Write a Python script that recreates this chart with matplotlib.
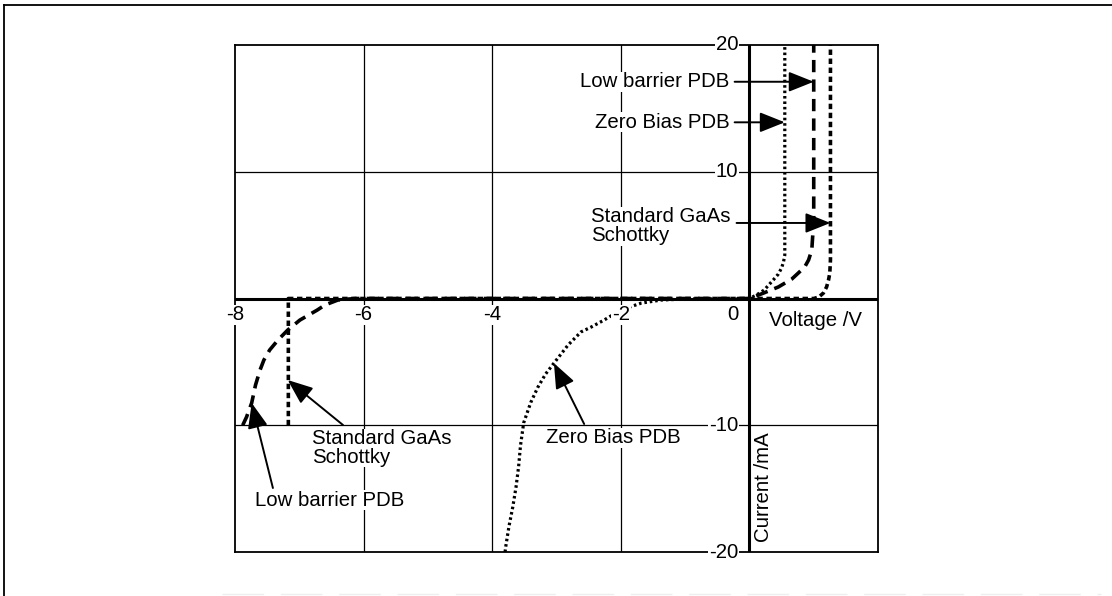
import matplotlib
matplotlib.use("Agg")
import matplotlib.pyplot as plt
from matplotlib.lines import Line2D

plt.rcParams['font.family'] = ['Liberation Sans', 'DejaVu Sans']
plt.rcParams['font.size'] = 14.7

# I-V characteristics (voltage in V, current in mA)
zero_bias_v = [-3.80, -3.79, -3.74, -3.68, -3.63, -3.59, -3.56, -3.51, -3.40,
               -3.29, -3.17, -3.04, -2.82, -2.62, -2.46, -2.26, -2.00, -1.68,
               -1.37, -1.00, 0.00, 0.11, 0.23, 0.37, 0.45, 0.50, 0.53, 0.55, 0.55]
zero_bias_i = [-20.0, -19.6, -18.0, -16.45, -14.9, -13.3, -11.6, -9.8, -8.2,
               -7.0, -5.96, -5.1, -3.67, -2.64, -2.25, -1.7, -0.91, -0.36,
               -0.12, -0.04, 0.0, 0.28, 0.67, 1.46, 1.93, 2.41, 2.88, 3.43, 20.0]

low_barrier_v = [-7.88, -7.82, -7.74, -7.68, -7.61, -7.55, -7.46, -7.33, -7.18,
                 -6.99, -6.72, -6.60, -6.40, -6.13, 0.00, 0.22, 0.45, 0.66,
                 0.76, 0.86, 0.92, 0.97, 0.98, 1.00, 1.00]
low_barrier_i = [-10.0, -9.35, -8.24, -6.82, -5.64, -4.85, -4.06, -3.27, -2.49,
                 -1.70, -0.91, -0.51, -0.12, 0.0, 0.0, 0.43, 0.91, 1.54,
                 2.01, 2.49, 3.04, 3.83, 4.62, 6.19, 20.0]

gaas_v = [-7.17, -7.17, 1.00, 1.08, 1.15, 1.20, 1.23, 1.25, 1.26, 1.26]
gaas_i = [-10.0, 0.0, 0.0, 0.12, 0.43, 0.91, 1.46, 2.01, 3.04, 20.0]

x_ticks = [-8, -6, -4, -2]
y_ticks = [20, 10, -10, -20]

fig = plt.figure(figsize=(11.12, 5.96), dpi=100)
ax = fig.add_axes([0.2113, 0.0738, 0.5783, 0.8507])
ax.set_xlim(-8, 2)
ax.set_ylim(-20, 20)
ax.set_xticks([])
ax.set_yticks([])
for s in ax.spines.values():
    s.set_linewidth(1.3)

# grid and main axes
for v in [-6, -4, -2]:
    ax.axvline(v, color='k', lw=0.9, zorder=1)
for i in [-10, 10]:
    ax.axhline(i, color='k', lw=0.9, zorder=1)
ax.axhline(0, color='k', lw=2.2, zorder=1.5)
ax.axvline(0, color='k', lw=2.2, zorder=1.5)

# curves
ax.plot(zero_bias_v, zero_bias_i, color='k', lw=2.3,
        linestyle=(0, (0.8, 0.9)), dash_capstyle='butt', zorder=2)
ax.plot(low_barrier_v, low_barrier_i, color='k', lw=2.6,
        linestyle=(0, (3.4, 2.0)), dash_capstyle='butt', zorder=2)
ax.plot(gaas_v, gaas_i, color='k', lw=2.6,
        linestyle=(0, (1.5, 1.0)), dash_capstyle='butt', zorder=2)

white = dict(facecolor='white', edgecolor='none', pad=0.6)

# tick labels
for v in x_ticks:
    ax.text(v, -1.3, f'{v}', ha='center', va='center', bbox=white, zorder=4)
ax.text(-0.17, -1.3, '0', ha='right', va='center', zorder=4)
for i in y_ticks:
    ax.text(-0.17, i, f'{i}', ha='right', va='center', bbox=white, zorder=4)

ax.text(0.31, -1.7, 'Voltage /V', ha='left', va='center')
ax.text(0.22, -14.9, 'Current /mA', rotation=90, ha='center', va='center')

arrow_kw = dict(arrowstyle='-|>,head_length=0.7,head_width=0.28',
                mutation_scale=22, lw=1.4, color='k', shrinkA=0, shrinkB=0)


def label(txt, pos, ha, tail, head):
    ax.text(pos[0], pos[1], txt, ha=ha, va='center', linespacing=1.0,
            bbox=dict(facecolor='white', edgecolor='none', pad=0.3), zorder=4)
    ax.annotate('', xy=head, xytext=tail, arrowprops=arrow_kw, zorder=5)


# forward-bias labels
label('Low barrier PDB', (-0.31, 17.1), 'right', (-0.23, 17.1), (1.0, 17.1))
label('Zero Bias PDB', (-0.31, 13.9), 'right', (-0.23, 13.9), (0.55, 13.9))
label('Standard GaAs\nSchottky', (-2.46, 5.7), 'left', (-0.2, 5.96), (1.26, 5.96))

# reverse-bias labels
label('Standard GaAs\nSchottky', (-6.80, -11.8), 'left', (-6.32, -9.98), (-7.18, -6.43))
label('Low barrier PDB', (-7.69, -15.9), 'left', (-7.41, -14.95), (-7.74, -8.24))
label('Zero Bias PDB', (-3.17, -11.0), 'left', (-2.57, -9.9), (-3.04, -5.1))

# outer frame
fig.add_artist(Line2D([4 / 1112, 4 / 1112], [0, 1 - 5 / 596],
                      transform=fig.transFigure, color='k', lw=1.3))
fig.add_artist(Line2D([4 / 1112, 1], [1 - 5 / 596, 1 - 5 / 596],
                      transform=fig.transFigure, color='k', lw=1.3))
fig.add_artist(Line2D([0.2, 0.99], [1 - 594 / 596, 1 - 594 / 596],
                      transform=fig.transFigure, color='#eeeeee', lw=1.0,
                      linestyle=(0, (30, 12))))

fig.savefig('out.png', dpi=100, facecolor='white')
